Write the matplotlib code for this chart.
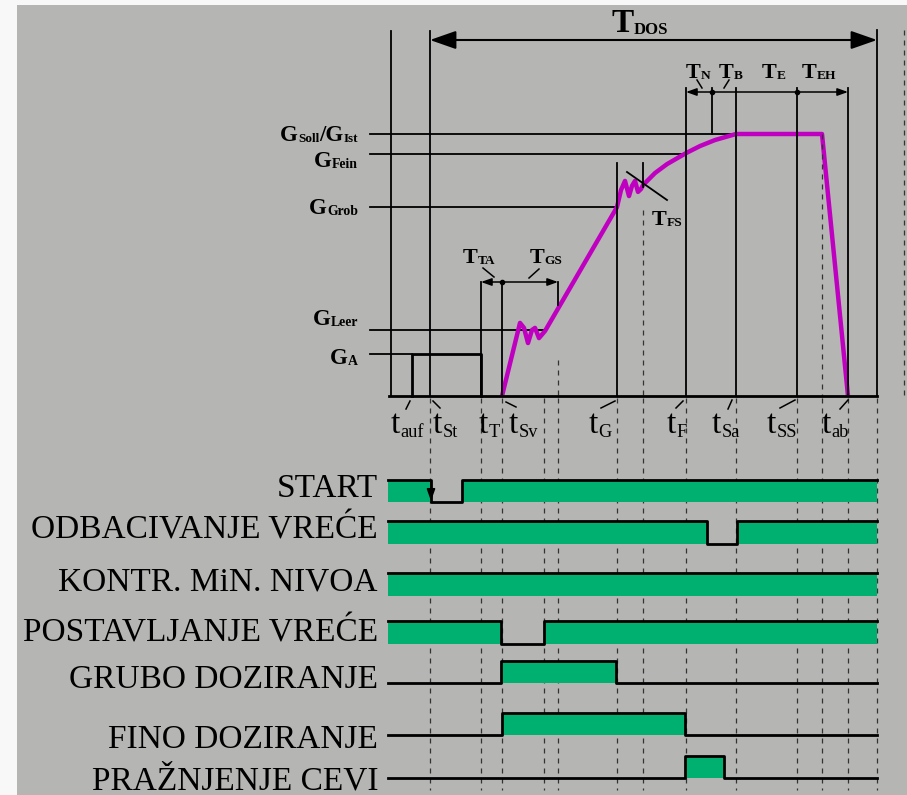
import matplotlib
matplotlib.use("Agg")
import matplotlib.pyplot as plt
from matplotlib.patches import Rectangle, FancyArrowPatch
from matplotlib.transforms import offset_copy

plt.rcParams['font.family'] = ['Liberation Serif', 'DejaVu Serif']

# ---- data ----------------------------------------------------------------
# event times (arbitrary time units, 0 = left frame line)
t_auf = 21
t_St = 39
t_T = 90
t_Sv = 111
t_PV = 153
t_GS = 167
t_G = 226
t_FS = 252
t_F = 295
t_N = 321
t_Sa = 345
t_SS = 406
t_E = 431
t_ab = 457
t_end = 486
t_next = 513

# weight levels (percent of G_Soll)
G_Soll = 100
G_Fein = 92.4
G_Grob = 72.1
G_Leer = 25.2
G_A = 16.0

# weight trace
curve_t = [111, 129, 133, 137, 141, 144, 148, 154, 226, 230, 234, 238, 241,
           244, 247, 250, 252, 264, 276, 295, 309, 324, 345, 431, 457]
curve_g = [0, 27.9, 26.0, 20.2, 25.2, 26.0, 22.1, 24.8, 72.1, 78.6, 82.1,
           76.3, 80.2, 82.1, 77.9, 79.0, 80.5, 85.1, 88.5, 92.7, 95.4, 97.7,
           100, 100, 0]

# control signals: intervals where the signal is high
signal_names = ["START", "ODBACIVANJE VREĆE", "KONTR. MiN. NIVOA",
                "POSTAVLJANJE VREĆE", "GRUBO DOZIRANJE", "FINO DOZIRANJE",
                "PRAŽNJENJE CEVI"]
signal_on = [[(-3, 40), (71, 486)],
             [(-3, 316), (346, 486)],
             [(-3, 486)],
             [(-3, 110), (153, 486)],
             [(110, 225)],
             [(111, 294)],
             [(294, 333)]]
sig_start, sig_end = -3, 486

# ---- layout / style --------------------------------------------------------
GRAY = '#b5b5b3'
GREEN = '#00b070'
MAGENTA = '#c000c0'
T0 = 391           # pixel column of t = 0
Y0 = 396           # pixel row of G = 0
GPX = 2.62         # pixels per weight unit

row_hi = [480, 521, 573, 621, 661, 713, 756]
row_lo = [502, 544, 596, 644, 683, 735, 778]
label_y = [489, 530, 582, 633, 680, 740, 781]

fig = plt.figure(figsize=(9.07, 7.95), dpi=100, facecolor='#f8f8f8')
fig.patches.append(Rectangle((17 / 907, 0), 1, 790 / 795, transform=fig.transFigure,
                             facecolor=GRAY, edgecolor='none', zorder=-5))


def new_axes(xlim, ylim):
    ax = fig.add_axes([0, 0, 1, 1])
    ax.set_xlim(*xlim)
    ax.set_ylim(*ylim)
    ax.set_axis_off()
    return ax


ax_w = new_axes((-T0, 907 - T0), (-(795 - Y0) / GPX, Y0 / GPX))  # time vs weight
ax_s = new_axes((-T0, 907 - T0), (795, 0))                       # time vs pixel row
ov = new_axes((0, 907), (795, 0))                                # pixel overlay
renderer = fig.canvas.get_renderer()


def rich(x, y, parts, size, ha='left', bold=True, ratio=0.6, drop=0.05):
    items = []
    for s, is_sub in parts:
        fs = size * ratio if is_sub else size
        t = ov.text(x, y, s, fontsize=fs, fontweight='bold' if bold else 'normal',
                    ha='left', va='baseline')
        items.append((t, t.get_window_extent(renderer).width, is_sub))
    total = sum(w for _, w, _ in items)
    dx = {'left': 0, 'center': -total / 2, 'right': -total}[ha]
    for t, w, is_sub in items:
        dy = -drop * size * 100 / 72 if is_sub else 0
        t.set_transform(offset_copy(ov.transData, fig=fig, x=dx, y=dy, units='dots'))
        dx += w


LW = 1.3
# ---- vertical event lines (top part) ---------------------------------------
top_lines = [(0, 31, Y0, '-'), (t_St, 31, Y0, '-'), (t_end, 30, Y0, '-'),
             (t_next, 30, Y0, '--'), (t_F, 88, Y0, '-'), (t_N, 88, 134, '-'),
             (t_Sa, 88, Y0, '-'), (t_SS, 88, Y0, '-'), (t_ab, 88, Y0, '-'),
             (t_G, 163, Y0, '-'), (t_FS, 163, 187, '-'), (t_FS, 210, Y0, '--'),
             (t_T, 282, Y0, '-'), (t_Sv, 282, Y0, '-'), (t_GS, 282, 305, '-'),
             (t_GS, 360, Y0, '--'), (t_E, 134, Y0, '--')]
for t, y1, y2, ls in top_lines:
    ax_s.plot([t, t], [y1, y2], color='black' if ls == '-' else '#333333',
              lw=LW if ls == '-' else 0.9, ls='-' if ls == '-' else (0, (4, 4)))

# dashed guide lines through the signal area
for t in [t_St, t_T, t_Sv, t_PV, t_GS, t_G, t_FS, t_F, t_Sa, t_SS, t_E, t_ab, t_end]:
    ax_s.plot([t, t], [Y0 + 2, 790], color='#333333', lw=0.9, ls=(0, (4, 4)), zorder=1)

# time axis
ax_s.plot([-2, t_end], [Y0, Y0], color='black', lw=2)

# ---- weight levels ---------------------------------------------------------
lev_x0 = -21
ax_w.plot([lev_x0, t_Sa], [G_Soll, G_Soll], color='black', lw=LW)
ax_w.plot([lev_x0, t_F], [G_Fein, G_Fein], color='black', lw=LW)
ax_w.plot([lev_x0, t_G], [G_Grob, G_Grob], color='black', lw=LW)
ax_w.plot([lev_x0, t_PV], [G_Leer, G_Leer], color='black', lw=LW)
ax_w.plot([lev_x0, t_auf], [G_A, G_A], color='black', lw=LW)
ax_w.plot([t_auf, t_auf, t_T, t_T], [0, G_A, G_A, 0], color='black', lw=2)

# weight trace
ax_w.plot(curve_t, curve_g, color=MAGENTA, lw=3.2, solid_joinstyle='round',
          solid_capstyle='butt', zorder=5)

# ---- dimension arrows ------------------------------------------------------
ax_s.add_patch(FancyArrowPatch((t_St, 40), (t_end, 40),
                               arrowstyle='<|-|>,head_length=1.0,head_width=0.35',
                               mutation_scale=16, lw=1.5, color='black',
                               shrinkA=0, shrinkB=0))
for a, b, yb, dots in [(t_F, t_ab, 92, [t_N, t_SS]), (t_T, t_GS, 282, [t_Sv])]:
    ax_s.add_patch(FancyArrowPatch((a, yb), (b, yb),
                                   arrowstyle='<|-|>,head_length=0.7,head_width=0.25',
                                   mutation_scale=9, lw=1.1, color='black',
                                   shrinkA=0, shrinkB=0))
    ax_s.plot(dots, [yb] * len(dots), 'o', color='black', ms=3)
# T_FS marker
ov.plot([627, 667], [172, 200], color='black', lw=1.3)

# ---- labels in the weight part ---------------------------------------------
rich(640, 32, [("T", False), ("DOS", True)], 24, ha='center', ratio=0.5)
rich(686, 78, [("T", False), ("N", True)], 16)
rich(719, 78, [("T", False), ("B", True)], 16)
rich(762, 78, [("T", False), ("E", True)], 16)
rich(802, 78, [("T", False), ("EH", True)], 16)
rich(463, 263, [("T", False), ("TA", True)], 16)
rich(530, 263, [("T", False), ("GS", True)], 16)
rich(652, 225, [("T", False), ("FS", True)], 16)

rich(358, 141, [("G", False), ("Soll", True), ("/G", False), ("Ist", True)], 16.5,
     ha='right', ratio=0.58)
rich(358, 167, [("G", False), ("Fein", True)], 16.5, ha='right')
rich(358, 214, [("G", False), ("Grob", True)], 16.5, ha='right')
rich(358, 325, [("G", False), ("Leer", True)], 16.5, ha='right')
rich(358, 364, [("G", False), ("A", True)], 16.5, ha='right')

# leader ticks
for (x1, y1), (x2, y2) in [((697, 80), (702, 88)), ((729, 80), (724, 88)),
                           ((483, 268), (494, 277)), ((539, 269), (529, 278))]:
    ov.plot([x1, x2], [y1, y2], color='black', lw=1.1)

# time labels under the axis
t_labels = [(391, "auf", (410, 401), (406, 409)), (433, "St", (433, 401), (440, 408)),
            (479, "T", None, None), (509, "Sv", (506, 402), (516, 407)),
            (589, "G", (615, 401), (601, 408)), (667, "F", (683, 401), (676, 408)),
            (712, "Sa", (732, 400), (728, 409)), (767, "SS", (795, 400), (780, 408)),
            (822, "ab", (848, 400), (840, 409))]
for x, sub, p1, p2 in t_labels:
    rich(x, 433, [("t", False), (sub, True)], 24, bold=False, ratio=0.55, drop=0.12)
    if p1 is not None:
        ov.plot([p1[0], p2[0]], [p1[1], p2[1]], color='black', lw=1.1)

# ---- control signals -------------------------------------------------------
for name, on, hi, lo, ly in zip(signal_names, signal_on, row_hi, row_lo, label_y):
    bounds = sorted({sig_start, sig_end} | {v for iv in on for v in iv})
    xs, ys = [], []
    for a, b in zip(bounds[:-1], bounds[1:]):
        m = (a + b) / 2
        high = any(s <= m <= e for s, e in on)
        xs += [a, b]
        ys += [hi if high else lo] * 2
    for s, e in on:
        ax_s.fill_between([s, e], hi, lo, color=GREEN, lw=0, zorder=2)
    ax_s.plot(xs, ys, color='black', lw=2, zorder=3)
    ov.text(378, ly, name, fontsize=24, ha='right', va='center')

# arrow on the START falling edge
ax_s.add_patch(FancyArrowPatch((40, 481), (40, 501),
                               arrowstyle='-|>,head_length=0.7,head_width=0.25',
                               mutation_scale=10, lw=1.2, color='black',
                               shrinkA=0, shrinkB=0, zorder=4))

fig.savefig('out.png', dpi=100, facecolor=fig.get_facecolor())
